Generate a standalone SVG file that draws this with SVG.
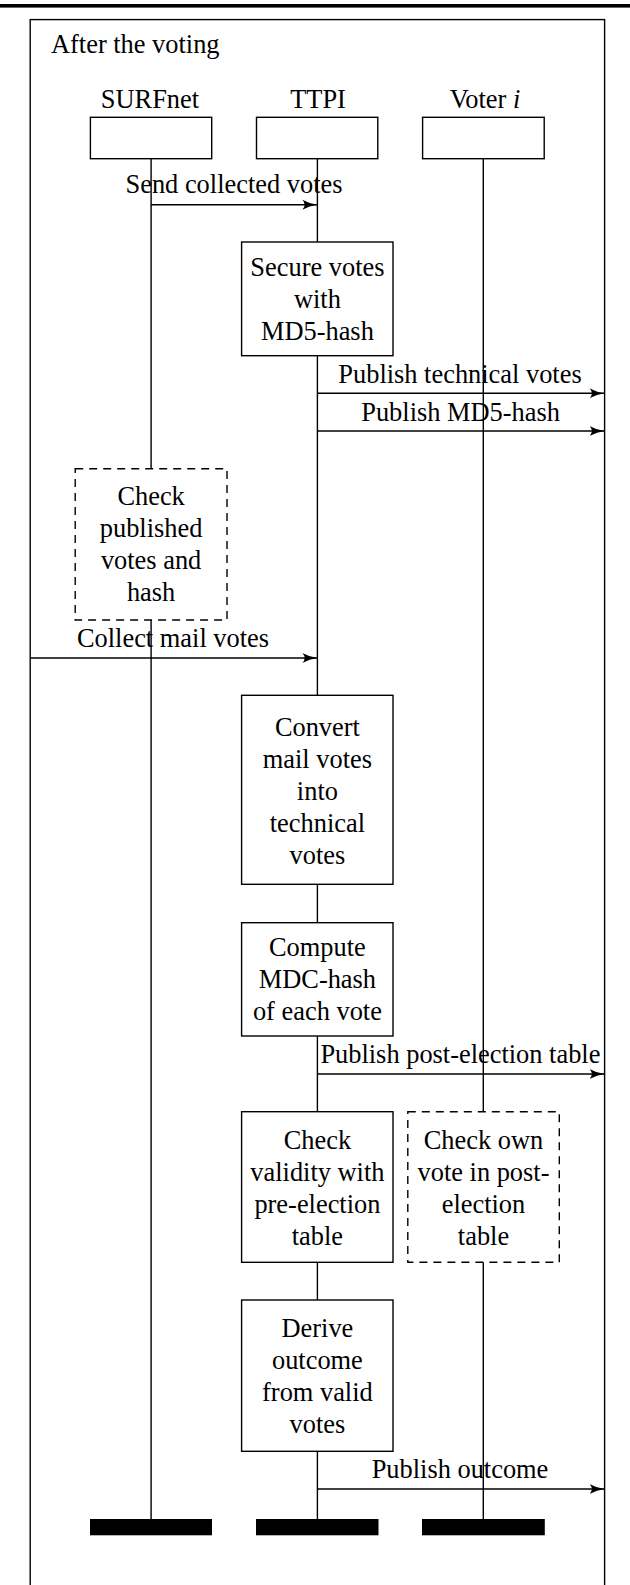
<svg xmlns="http://www.w3.org/2000/svg" width="630" height="1585" viewBox="0 0 630 1585">
<style>
text{font-family:"Liberation Serif","Times New Roman",serif;font-size:26.4px;fill:#000}
.c{text-anchor:middle}
.box{fill:#fff;stroke:#000;stroke-width:1.4}
.dash{fill:#fff;stroke:#000;stroke-width:1.4;stroke-dasharray:8 6}
.life{stroke:#000;stroke-width:1.4;fill:none}
.msg{stroke:#000;stroke-width:1.4;fill:none;marker-end:url(#ah)}
.bar{fill:#000}
</style>
<defs>
<marker id="ah" markerWidth="16" markerHeight="12" refX="15" refY="6" orient="auto" markerUnits="userSpaceOnUse">
<path d="M0,1 Q7,5 15,6 Q7,7 0,11 Q4.5,6 0,1 Z" fill="#000"/>
</marker>
</defs>
<rect x="0" y="4" width="630" height="3.6" fill="#000"/>
<rect x="30.2" y="19.6" width="574.4" height="1600" fill="none" stroke="#000" stroke-width="1.4"/>
<text x="51" y="53.3">After the voting</text>

<g id="lifelines">
<path class="life" d="M151.1,158.7V468.7M151.1,620V1519"/>
<path class="life" d="M317.4,158.7V242M317.4,355.7V695.3M317.4,884.3V922.7M317.4,1036V1111.7M317.4,1262.3V1300M317.4,1451.3V1519"/>
<path class="life" d="M483.3,158.7V1111.7M483.3,1262.3V1519"/>
</g>

<g id="connectors">
<path class="msg" d="M151.1,204.7H317.4"/>
<text class="c" x="234" y="193.3">Send collected votes</text>
<path class="msg" d="M317.4,393.3H604.6"/>
<text class="c" x="460" y="383.3">Publish technical votes</text>
<path class="msg" d="M317.4,431H604.6"/>
<text class="c" x="460.6" y="420.7">Publish MD5-hash</text>
<path class="msg" d="M30.2,658H317.4"/>
<text class="c" x="173" y="647.3">Collect mail votes</text>
<path class="msg" d="M317.4,1074H604.6"/>
<text class="c" x="460.4" y="1062.7">Publish post-election table</text>
<path class="msg" d="M317.4,1489H604.6"/>
<text class="c" x="460" y="1478.3">Publish outcome</text>
</g>

<g id="surfnet">
<text class="c" x="150" y="108">SURFnet</text>
<rect class="box" x="90.4" y="117.3" width="121.3" height="41.4"/>
</g>
<g id="ttpi">
<text class="c" x="318" y="108">TTPI</text>
<rect class="box" x="256.5" y="117.3" width="121.3" height="41.4"/>
</g>
<g id="voter">
<text class="c" x="485" y="108">Voter <tspan font-style="italic">i</tspan></text>
<rect class="box" x="422.6" y="117.3" width="121.6" height="41.4"/>
</g>

<g id="secure">
<rect class="box" x="241.6" y="242" width="151.4" height="113.7"/>
<text class="c" x="317.4" y="276">Secure votes</text>
<text class="c" x="317.4" y="308">with</text>
<text class="c" x="317.4" y="340">MD5-hash</text>
</g>

<g id="check-published">
<rect class="dash" x="75.2" y="468.7" width="151.8" height="151.3"/>
<text class="c" x="151.1" y="505">Check</text>
<text class="c" x="151.1" y="537">published</text>
<text class="c" x="151.1" y="569">votes and</text>
<text class="c" x="151.1" y="601">hash</text>
</g>

<g id="convert">
<rect class="box" x="241.6" y="695.3" width="151.4" height="189"/>
<text class="c" x="317.4" y="735.5">Convert</text>
<text class="c" x="317.4" y="767.5">mail votes</text>
<text class="c" x="317.4" y="799.5">into</text>
<text class="c" x="317.4" y="831.5">technical</text>
<text class="c" x="317.4" y="863.5">votes</text>
</g>

<g id="compute">
<rect class="box" x="241.6" y="922.7" width="151.4" height="113.3"/>
<text class="c" x="317.4" y="956">Compute</text>
<text class="c" x="317.4" y="988">MDC-hash</text>
<text class="c" x="317.4" y="1020">of each vote</text>
</g>

<g id="check-validity">
<rect class="box" x="241.6" y="1111.7" width="151.4" height="150.6"/>
<text class="c" x="317.4" y="1148.5">Check</text>
<text class="c" x="317.4" y="1180.5">validity with</text>
<text class="c" x="317.4" y="1212.5">pre-election</text>
<text class="c" x="317.4" y="1244.5">table</text>
</g>

<g id="check-own">
<rect class="dash" x="407.8" y="1111.7" width="151.5" height="150.6"/>
<text class="c" x="483.5" y="1148.5">Check own</text>
<text class="c" x="483.5" y="1180.5">vote in post-</text>
<text class="c" x="483.5" y="1212.5">election</text>
<text class="c" x="483.5" y="1244.5">table</text>
</g>

<g id="derive">
<rect class="box" x="241.6" y="1300" width="151.4" height="151.3"/>
<text class="c" x="317.4" y="1337">Derive</text>
<text class="c" x="317.4" y="1369">outcome</text>
<text class="c" x="317.4" y="1401">from valid</text>
<text class="c" x="317.4" y="1433">votes</text>
</g>

<g id="ends">
<rect class="bar" x="90" y="1519" width="122" height="16.3"/>
<rect class="bar" x="256" y="1519" width="122.5" height="16.3"/>
<rect class="bar" x="422" y="1519" width="122.8" height="16.3"/>
</g>
</svg>
